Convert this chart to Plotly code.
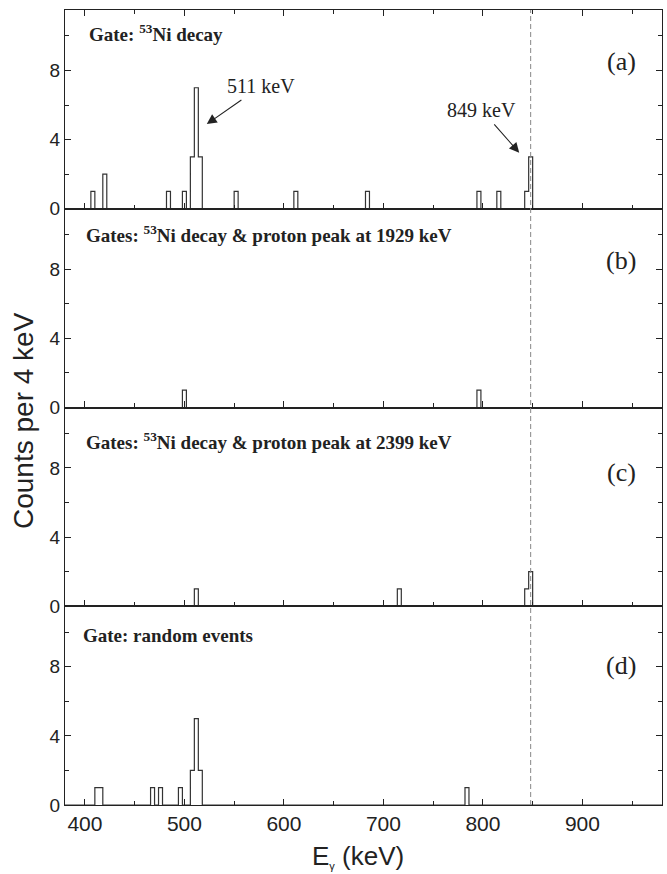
import numpy as np
import plotly.graph_objects as go

# ---- data (lower bin edge in keV, counts per 4 keV bin) ----
bin_width = 4
edges_a = [406, 418, 482, 498, 506, 510, 514, 550, 610, 682, 794, 814, 842, 846]
counts_a = [1, 2, 1, 1, 3, 7, 3, 1, 1, 1, 1, 1, 1, 3]
edges_b = [498, 794]
counts_b = [1, 1]
edges_c = [510, 714, 842, 846]
counts_c = [1, 1, 1, 2]
edges_d = [410, 414, 466, 474, 494, 506, 510, 514, 782]
counts_d = [1, 1, 1, 1, 1, 2, 5, 2, 1]

gate_labels = [
    "<b>Gate: <sup>53</sup>Ni decay</b>",
    "<b>Gates: <sup>53</sup>Ni decay &amp; proton peak at 1929 keV</b>",
    "<b>Gates: <sup>53</sup>Ni decay &amp; proton peak at 2399 keV</b>",
    "<b>Gate: random events</b>",
]
panel_tags = ["(a)", "(b)", "(c)", "(d)"]
x_ticks = [400, 500, 600, 700, 800, 900]
y_ticks = [0, 4, 8]
ref_line_keV = 848
x_range = [380, 980]
y_range = [0, 11.5]

panels = [(edges_a, counts_a), (edges_b, counts_b), (edges_c, counts_c), (edges_d, counts_d)]

# ---- figure ----
W, H = 667, 874
ml, mr, mt, mb = 65, 5, 10, 69
fig = go.Figure()

full_edges = np.arange(378, 986, bin_width)
n = len(panels)
domains = []
for i in range(n):
    top = 1 - i / n
    bot = 1 - (i + 1) / n
    domains.append([bot, top])

serif = "Liberation Serif"
sans = "Liberation Sans"

for i, (edges, counts) in enumerate(panels):
    y = np.zeros(len(full_edges))
    for e, c in zip(edges, counts):
        idx = int(np.where(full_edges == e)[0][0])
        y[idx] = c
    suffix = "" if i == 0 else str(i + 1)
    fig.add_trace(go.Scatter(
        x=full_edges, y=y, mode="lines", line=dict(shape="hv", color="#333333", width=1.2),
        xaxis="x" + suffix, yaxis="y" + suffix, showlegend=False, hoverinfo="skip"))

    xa = dict(
        range=x_range, domain=[0, 1], anchor="y" + suffix,
        tickvals=x_ticks, ticks="inside", ticklen=6, tickwidth=1.2, tickcolor="#222",
        minor=dict(tickvals=[450, 550, 650, 750, 850, 950], ticks="inside", ticklen=4, tickwidth=1, tickcolor="#222"),
        showline=True, linecolor="#222", linewidth=1.4,
        mirror="ticks" if i == 0 else True,
        showgrid=False, zeroline=False,
        showticklabels=(i == n - 1),
        tickfont=dict(family=sans, size=21, color="#222"),
    )
    if i > 0:
        xa["matches"] = "x"
    ya = dict(
        range=y_range, domain=domains[i], anchor="x" + suffix,
        tickvals=y_ticks, ticks="inside", ticklen=6, tickwidth=1.2, tickcolor="#222",
        minor=dict(tickvals=[2, 6, 10], ticks="inside", ticklen=4, tickwidth=1, tickcolor="#222"),
        showline=True, linecolor="#222", linewidth=1.4, mirror="ticks",
        showgrid=False, zeroline=False,
        tickfont=dict(family=sans, size=19, color="#222"),
    )
    fig.layout["xaxis" + suffix] = xa
    fig.layout["yaxis" + suffix] = ya

annotations = []
gate_y = [10.15, 10.05, 9.55, 9.8]
gate_x = [402, 399, 399, 396]
tag_y = [8.5, 8.5, 7.75, 8.1]
for i in range(n):
    suffix = "" if i == 0 else str(i + 1)
    annotations.append(dict(
        x=gate_x[i], y=gate_y[i], xref="x" + suffix, yref="y" + suffix,
        text=gate_labels[i], showarrow=False, xanchor="left", yanchor="middle",
        font=dict(family=serif, size=19, color="#222")))
    annotations.append(dict(
        x=939, y=tag_y[i], xref="x" + suffix, yref="y" + suffix,
        text=panel_tags[i], showarrow=False, xanchor="center", yanchor="middle",
        font=dict(family=serif, size=26, color="#222")))

# peak labels with arrows (panel a)
annotations.append(dict(
    x=522.5, y=4.9, xref="x", yref="y", ax=577, ay=7.08, axref="x", ayref="y",
    text="511 keV", showarrow=True, arrowhead=2, arrowsize=1.8, arrowwidth=1.1,
    arrowcolor="#222", standoff=0, startstandoff=2,
    font=dict(family=serif, size=20, color="#222")))
annotations.append(dict(
    x=836.5, y=3.24, xref="x", yref="y", ax=799, ay=5.69, axref="x", ayref="y",
    text="849 keV", showarrow=True, arrowhead=2, arrowsize=1.8, arrowwidth=1.1,
    arrowcolor="#222", standoff=0, startstandoff=2,
    font=dict(family=serif, size=20, color="#222")))

# axis titles
plot_w = W - ml - mr
plot_h = H - mt - mb
annotations.append(dict(
    x=(23 - ml) / plot_w, y=(H - mb - 421) / plot_h, xref="paper", yref="paper",
    text="Counts per 4 keV", textangle=-90, showarrow=False,
    xanchor="center", yanchor="middle",
    font=dict(family=sans, size=28, color="#222")))
annotations.append(dict(
    x=(358 - ml) / plot_w, y=(H - mb - 856) / plot_h, xref="paper", yref="paper",
    text="E<sub><span style='font-size:11px'>γ</span></sub> (keV)", showarrow=False,
    xanchor="center", yanchor="middle",
    font=dict(family=sans, size=26, color="#222")))

fig.update_layout(
    width=W, height=H,
    margin=dict(l=ml, r=mr, t=mt, b=mb),
    paper_bgcolor="white", plot_bgcolor="white",
    annotations=annotations,
    shapes=[dict(type="line", xref="x", yref="paper", x0=ref_line_keV, x1=ref_line_keV,
                 y0=0, y1=1, line=dict(color="#888888", width=1, dash="5px,3px"))],
    showlegend=False,
)

fig.write_html("out.html")
